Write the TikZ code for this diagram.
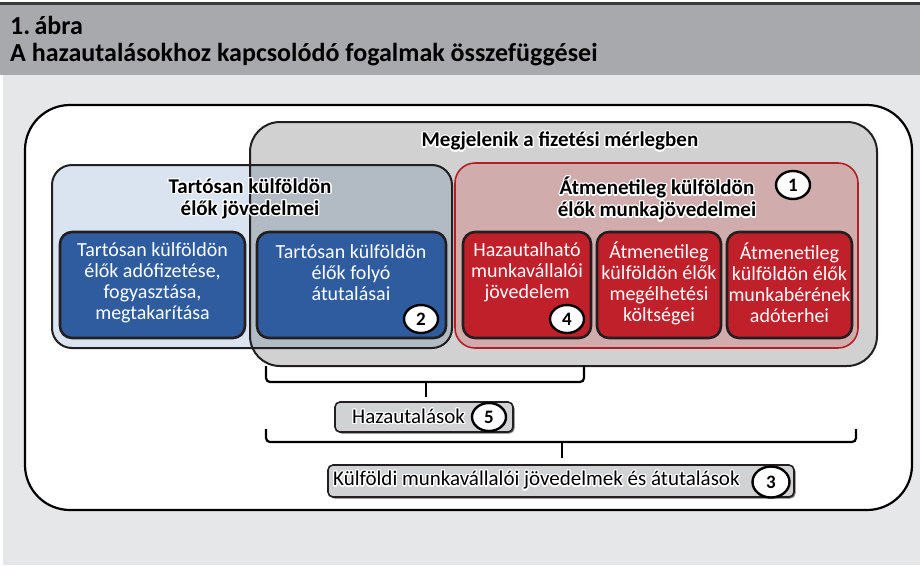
\documentclass[tikz,border=0pt]{standalone}
\usepackage{fontspec}
\setmainfont{Carlito}
\usepackage{contour}
\contourlength{1.3pt}
\contournumber{16}
\usetikzlibrary{shapes.geometric}
\definecolor{bgc}{HTML}{E6E7E8}
\definecolor{titlec}{HTML}{A7A9AC}
\definecolor{topline}{HTML}{3A3A3C}
\definecolor{lightblue}{HTML}{DAE3F0}
\definecolor{pinkc}{HTML}{D1ACAD}
\definecolor{redborder}{HTML}{B41F26}
\definecolor{darkblue}{HTML}{2E5C9E}
\definecolor{darkred}{HTML}{C0202A}
\definecolor{edgec}{HTML}{231F20}
\definecolor{labelgray}{HTML}{D1D2D4}
\newcommand{\hl}[1]{\contour{white}{#1}}
\tikzset{
  inner/.style={draw=edgec, line width=2.6pt, rounded corners=12},
  intext/.style={align=center, text=white, font=\fontsize{20}{21}\selectfont, inner sep=0},
  heading/.style={align=center, font=\bfseries\fontsize{21}{22}\selectfont, inner sep=0},
  badge/.style={ellipse, draw=black, line width=2.4pt, fill=white, minimum width=34pt, minimum height=28pt, inner sep=0, font=\bfseries\fontsize{19}{19}\selectfont},
  labelbox/.style={draw=edgec, line width=1.6pt, fill=labelgray, rounded corners=5},
  bracket/.style={draw=black, line width=2.2pt, rounded corners=4},
  labeltext/.style={inner sep=0, font=\fontsize{21}{22}\selectfont, anchor=west},
}
\begin{document}
\begin{tikzpicture}[x=1pt,y=-1pt]
\useasboundingbox (0,0) rectangle (920,565);
\fill[white] (0,0) rectangle (920,565);
\fill[bgc] (3,75) rectangle (920,565);
\fill[titlec] (0,5) rectangle (920,75);
\fill[topline] (0,2) rectangle (920,5);
\node[anchor=west, inner sep=0, font=\bfseries\fontsize{26}{28}\selectfont] (t1) at (10,25) {1.\,ábra};
\node[anchor=west, inner sep=0, font=\bfseries\fontsize{26}{28}\selectfont] (t2) at (10,55) {A hazautalásokhoz kapcsolódó fogalmak összefüggései};

% outer white frame
\draw[line width=2.2pt, fill=white, rounded corners=45] (25,105) rectangle (912,510);

% light blue region, grey region over it
\fill[lightblue, rounded corners=20] (52,165) rectangle (452,348);
\fill[black, fill opacity=0.18, rounded corners=30] (250,122) rectangle (877,366);
\draw[edgec, line width=2pt, rounded corners=30] (250,122) rectangle (877,366);
\draw[edgec, line width=2pt, rounded corners=20] (52,165) rectangle (452,348);

% red region
\draw[redborder, line width=1.6pt, fill=pinkc, rounded corners=20] (455,163) rectangle (858,348);

\node[heading] (hMeg) at (560,142) {\hl{Megjelenik a fizetési mérlegben}};
\node[heading] (hTart) at (250,199.5) {\hl{Tartósan külföldön}\\\hl{élők jövedelmei}};
\node[heading] (hAtm) at (657,199.5) {\hl{Átmenetileg külföldön}\\\hl{élők munkajövedelmei}};

% inner boxes
\draw[inner, fill=darkblue] (60,232) rectangle (245,338);
\draw[inner, fill=darkblue] (257,232) rectangle (446,338);
\draw[inner, fill=darkred] (463,232) rectangle (591,338);
\draw[inner, fill=darkred] (597,232) rectangle (721,338);
\draw[inner, fill=darkred] (727,232) rectangle (852,338);

\node[intext] (b1) at (152.5,283) {Tartósan külföldön\\élők adófizetése,\\fogyasztása,\\megtakarítása};
\node[intext] (b2) at (351,272.5) {Tartósan külföldön\\élők folyó\\átutalásai};
\node[intext] (r1) at (527,272.5) {Hazautalható\\munkavállalói\\jövedelem};
\node[intext] (r2) at (659,283) {Átmenetileg\\külföldön élők\\megélhetési\\költségei};
\node[intext] (r3) at (789.5,283) {Átmenetileg\\külföldön élők\\munkabérének\\adóterhei};

\node[badge] (n1) at (793,185) {1};
\node[badge] (n2) at (421,319) {2};
\node[badge] (n4) at (567,319) {4};

% brackets
\coordinate (br1a) at (266,366);
\coordinate (br1b) at (584,366);
\coordinate (br1m) at (426,397);
\draw[bracket] (br1a) -- (266,382) -- (584,382) -- (br1b);
\draw[black, line width=2.2pt] (426,381) -- (br1m);

\coordinate (br2a) at (266,429);
\coordinate (br2b) at (856,429);
\coordinate (br2m) at (562,458);
\draw[bracket] (br2a) -- (266,442) -- (856,442) -- (br2b);
\draw[black, line width=2.2pt] (562,441) -- (br2m);

% label boxes
\fill[black!55, rounded corners=5] (336.5,403.5) rectangle (514.5,433.5);
\draw[labelbox] (335,402) rectangle (513,432);
\node[labeltext] (lHaz) at (352,417) {\hl{Hazautalások}};
\node[badge] (n5) at (489,417) {5};

\fill[black!55, rounded corners=5] (329.5,466.5) rectangle (795.5,498.5);
\draw[labelbox] (328,465) rectangle (794,497);
\node[labeltext] (lKul) at (333,481) {\hl{Külföldi munkavállalói jövedelmek és átutalások}};
\node[badge, minimum width=37pt, minimum height=31pt] (n3) at (771,482) {3};
\end{tikzpicture}
\end{document}
